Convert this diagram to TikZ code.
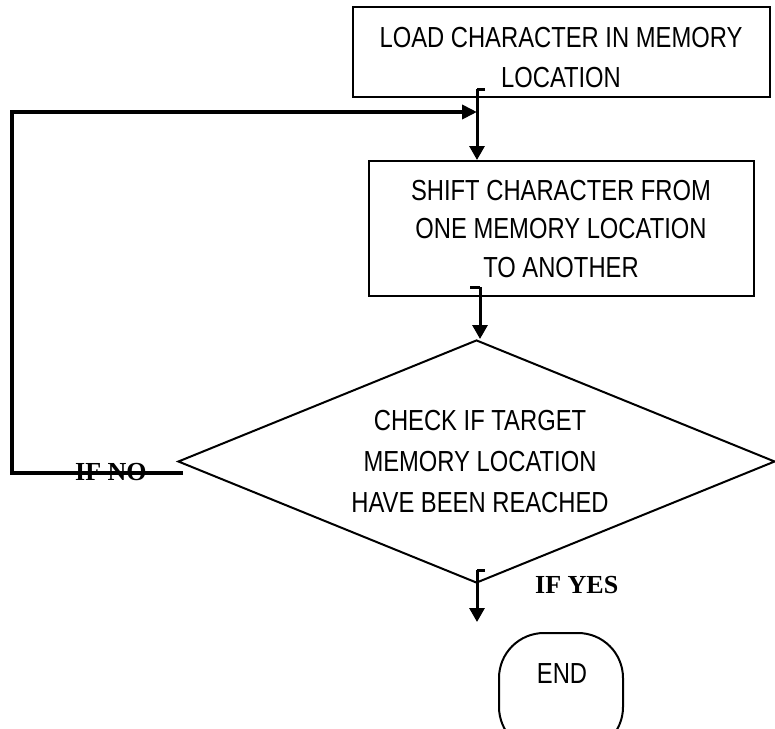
\documentclass[tikz,border=0pt]{standalone}
\usepackage{fontspec}
\setmainfont{Liberation Sans}[FakeStretch=0.82]
\newfontfamily\ifont{Liberation Serif}
\usetikzlibrary{arrows.meta,shapes.geometric}
\begin{document}
\begin{tikzpicture}[x=1pt,y=-1pt,
  boxshape/.style={draw,line width=2pt,inner sep=0pt},
  txt/.style={align=center,inner sep=0pt,font=\fontsize{29}{40}\selectfont},
  cond/.style={font=\ifont\bfseries\fontsize{26}{30}\selectfont,inner sep=0pt,anchor=base west},
  flow/.style={line width=3pt,-{Triangle[length=14pt,width=15pt]}},
  loopline/.style={line width=4pt,-{Triangle[length=15pt,width=14pt]}}]
\useasboundingbox (0,0) rectangle (775,728);
\clip (0,0) rectangle (775,728);
% boxes
\node[boxshape,minimum width=417pt,minimum height=90pt] (b1) at (561.5,52) {};
\node[txt] (b1t) at (561,57.5) {LOAD CHARACTER IN MEMORY\\LOCATION};
\node[boxshape,minimum width=385pt,minimum height=135pt] (b2) at (561.5,228.5) {};
\node[txt,font=\fontsize{29}{38.5}\selectfont] (b2t) at (561,229) {SHIFT CHARACTER FROM\\ONE MEMORY LOCATION\\TO ANOTHER};
\node[diamond,draw,line width=2pt,minimum width=597pt,minimum height=243pt,inner sep=0pt] (chk) at (476.5,461.5) {};
\node[txt,font=\fontsize{29}{41}\selectfont] (chkt) at (480,462) {CHECK IF TARGET\\MEMORY LOCATION\\HAVE BEEN REACHED};
\draw[line width=2pt,rounded corners=45pt] (499,633) rectangle (623,752);
\node[txt] (endt) at (562,673.5) {END};
\coordinate (endn) at (561,633);
% connectors
\coordinate (s1) at (477,89);
\draw[line width=3pt] (485,89) -- (s1);
\draw[flow] (s1) -- (b2.north -| s1);
\coordinate (s2) at (480,287);
\draw[line width=3pt] (470,287) -- (s2);
\draw[flow] (s2) -- (chk.north -| s2);
\coordinate (s3) at (477,570);
\draw[line width=3pt] (485,570) -- (s3);
\draw[flow] (s3) -- (477,622);
\coordinate (lp) at (183,473);
\draw[loopline] (lp) -- (12,473) -- (12,112) -- (477,112);
% labels
\node[cond] (no) at (75,480) {IF NO};
\node[cond] (yes) at (535,593) {IF YES};
\end{tikzpicture}
\end{document}
